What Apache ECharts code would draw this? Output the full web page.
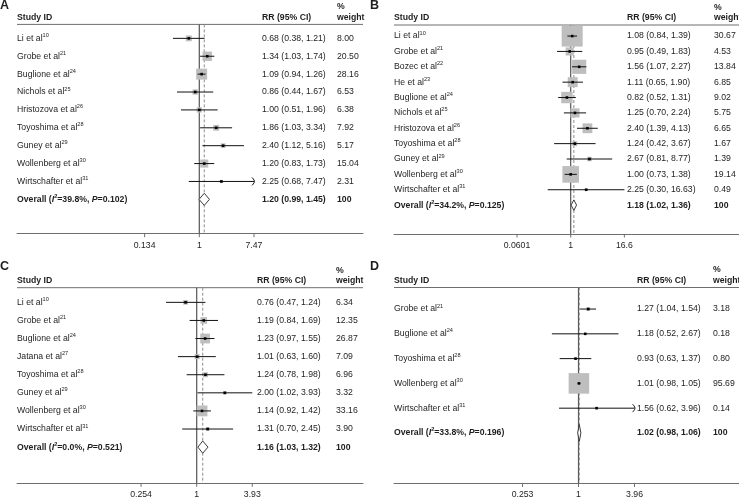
<!DOCTYPE html>
<html><head><meta charset="utf-8">
<script src="https://cdn.jsdelivr.net/npm/echarts@6/dist/echarts.min.js"></script>
<style>html,body{margin:0;padding:0;background:#fff}#c{width:739px;height:497px}</style>
</head><body><div id="c"></div>
<script>
// ---------- Panel A ----------
const studiesA = ['Li et al','Grobe et al','Buglione et al','Nichols et al','Hristozova et al','Toyoshima et al','Guney et al','Wollenberg et al','Wirtschafter et al'];
const refsA = ['10','21','24','25','26','28','29','30','31'];
const rrA = [0.68,1.34,1.09,0.86,1.00,1.86,2.40,1.20,2.25];
const lowA = [0.38,1.03,0.94,0.44,0.51,1.03,1.12,0.83,0.68];
const highA = [1.21,1.74,1.26,1.67,1.96,3.34,5.16,1.73,7.47];
const weightA = [8.00,20.50,28.16,6.53,6.38,7.92,5.17,15.04,2.31];
const arrowA = [0,0,0,0,0,0,0,0,1];
const overallA = [1.20,0.99,1.45];
const hetA = ['39.8%','0.102'];
const ticksA = [0.134,1,7.47];

// ---------- Panel B ----------
const studiesB = ['Li et al','Grobe et al','Bozec et al','He et al','Buglione et al','Nichols et al','Hristozova et al','Toyoshima et al','Guney et al','Wollenberg et al','Wirtschafter et al'];
const refsB = ['10','21','22','23','24','25','26','28','29','30','31'];
const rrB = [1.08,0.95,1.56,1.11,0.82,1.25,2.40,1.24,2.67,1.00,2.25];
const lowB = [0.84,0.49,1.07,0.65,0.52,0.70,1.39,0.42,0.81,0.73,0.30];
const highB = [1.39,1.83,2.27,1.90,1.31,2.24,4.13,3.67,8.77,1.38,16.63];
const weightB = [30.67,4.53,13.84,6.85,9.02,5.75,6.65,1.67,1.39,19.14,0.49];
const arrowB = [0,0,0,0,0,0,0,0,0,0,0];
const overallB = [1.18,1.02,1.36];
const hetB = ['34.2%','0.125'];
const ticksB = [0.0601,1,16.6];

// ---------- Panel C ----------
const studiesC = ['Li et al','Grobe et al','Buglione et al','Jatana et al','Toyoshima et al','Guney et al','Wollenberg et al','Wirtschafter et al'];
const refsC = ['10','21','24','27','28','29','30','31'];
const rrC = [0.76,1.19,1.23,1.01,1.24,2.00,1.14,1.31];
const lowC = [0.47,0.84,0.97,0.63,0.78,1.02,0.92,0.70];
const highC = [1.24,1.69,1.55,1.60,1.98,3.93,1.42,2.45];
const weightC = [6.34,12.35,26.87,7.09,6.96,3.32,33.16,3.90];
const arrowC = [0,0,0,0,0,0,0,0];
const overallC = [1.16,1.03,1.32];
const hetC = ['0.0%','0.521'];
const ticksC = [0.254,1,3.93];

// ---------- Panel D ----------
const studiesD = ['Grobe et al','Buglione et al','Toyoshima et al','Wollenberg et al','Wirtschafter et al'];
const refsD = ['21','24','28','30','31'];
const rrD = [1.27,1.18,0.93,1.01,1.56];
const lowD = [1.04,0.52,0.63,0.98,0.62];
const highD = [1.54,2.67,1.37,1.05,3.96];
const weightD = [3.18,0.18,0.80,95.69,0.14];
const arrowD = [0,0,0,0,1];
const overallD = [1.02,0.98,1.06];
const hetD = ['33.8%','0.196'];
const ticksD = [0.253,1,3.96];

// ---------- layout / style ----------
const FF = '"Liberation Sans", Arial, Helvetica, sans-serif';
const FS = 8.7;
const TXT = '#1e1e1e';

const panels = [
  {letter:'A', names:studiesA, refs:refsA, rr:rrA, lo:lowA, hi:highA, w:weightA, arrow:arrowA, overall:overallA, het:hetA, ticks:ticksA,
   L:{left:17, right:363, top:24.4, bottom:233.7, c:199.3, k:27.2, ymin:-0.78, ymax:10.92, nameX:17, rrX:262, wX:337, boxK:2.07, tickDy:12, letterX:0, letterY:6}},
  {letter:'B', names:studiesB, refs:refsB, rr:rrB, lo:lowB, hi:highB, w:weightB, arrow:arrowB, overall:overallB, het:hetB, ticks:ticksB,
   L:{left:394, right:739, top:25, bottom:234, c:570.7, k:19.1, ymin:-0.72, ymax:12.88, nameX:394, rrX:627, wX:714, boxK:3.8, tickDy:12, letterX:370, letterY:6}},
  {letter:'C', names:studiesC, refs:refsC, rr:rrC, lo:lowC, hi:highC, w:weightC, arrow:arrowC, overall:overallC, het:hetC, ticks:ticksC,
   L:{left:17, right:363, top:287.7, bottom:483.3, c:196.7, k:40.6, ymin:-0.81, ymax:10.0, nameX:17, rrX:257, wX:336, boxK:1.88, tickDy:11, letterX:0, letterY:267}},
  {letter:'D', names:studiesD, refs:refsD, rr:rrD, lo:lowD, hi:highD, w:weightD, arrow:arrowD, overall:overallD, het:hetD, ticks:ticksD,
   L:{left:394, right:739, top:287.5, bottom:483.5, c:578.5, k:40.7, ymin:-0.87, ymax:7.04, nameX:394, rrX:637, wX:713, boxK:2.1, tickDy:11, letterX:370, letterY:267}}
];

function fmt(v){ return v.toFixed(2); }
function ciText(e,l,h){ return fmt(e)+' ('+fmt(l)+', '+fmt(h)+')'; }

const richNorm = {
  n:{fontSize:FS, fontFamily:FF, fill:TXT, lineHeight:12},
  s:{fontSize:5.6, fontFamily:FF, fill:TXT, lineHeight:6, verticalAlign:'top'}
};
const richBold = {
  b:{fontSize:FS, fontFamily:FF, fill:TXT, fontWeight:'bold', lineHeight:12},
  bi:{fontSize:FS, fontFamily:FF, fill:TXT, fontWeight:'bold', fontStyle:'italic', lineHeight:12},
  bs:{fontSize:5.6, fontFamily:FF, fill:TXT, fontWeight:'bold', lineHeight:6, verticalAlign:'top'}
};

function txt(text, x, y, opts){
  return {type:'text', style:Object.assign({text:text, x:x, y:y, fill:TXT, fontSize:FS, fontFamily:FF, align:'left', verticalAlign:'middle'}, opts||{})};
}

function frameRender(P){
  return function(params, api){
    const cs = params.coordSys, L = P.L;
    const top = cs.y, bot = cs.y + cs.height, left = cs.x, right = cs.x + cs.width;
    const x1 = api.coord([1, 0])[0];
    const xo = api.coord([P.overall[0], 0])[0];
    const ch = [];
    ch.push({type:'line', shape:{x1:left, y1:top, x2:right, y2:top}, style:{stroke:'#6e6e6e', lineWidth:1}});
    ch.push({type:'line', shape:{x1:x1, y1:top, x2:x1, y2:bot}, style:{stroke:'#555', lineWidth:1.2}});
    ch.push({type:'line', shape:{x1:xo, y1:top, x2:xo, y2:bot}, style:{stroke:'#8c8c8c', lineWidth:1, lineDash:[3,2]}});
    P.ticks.forEach(function(t){
      const tx = api.coord([t, 0])[0];
      ch.push({type:'line', shape:{x1:tx, y1:bot, x2:tx, y2:bot+3.5}, style:{stroke:'#6e6e6e', lineWidth:1}});
      ch.push(txt(String(t), tx, bot + L.tickDy, {align:'center'}));
    });
    ch.push(txt('Study ID', L.nameX, top - 7, {fontWeight:'bold'}));
    ch.push(txt('RR (95% CI)', L.rrX, top - 7, {fontWeight:'bold'}));
    ch.push(txt('%', L.wX, top - 17.5, {fontWeight:'bold'}));
    ch.push(txt('weight', L.wX, top - 7, {fontWeight:'bold'}));
    ch.push(txt(P.letter, L.letterX, L.letterY, {fontWeight:'bold', fontSize:12.5}));
    return {type:'group', children:ch};
  };
}

function studyRender(P){
  return function(params, api){
    const i = params.dataIndex, L = P.L;
    const y = api.coord([1, i])[1];
    const xe = api.coord([P.rr[i], i])[0];
    const xl = api.coord([P.lo[i], i])[0];
    const xh = api.coord([P.hi[i], i])[0];
    const s = L.boxK * Math.sqrt(P.w[i]);
    const ch = [
      {type:'rect', shape:{x:xe - s/2, y:y - s/2, width:s, height:s}, style:{fill:'#bebebe'}},
      {type:'line', shape:{x1:xl, y1:y, x2:xh, y2:y}, style:{stroke:'#111', lineWidth:1}},
      {type:'rect', shape:{x:xe - 1.3, y:y - 1.3, width:2.6, height:2.6}, style:{fill:'#000'}}
    ];
    if (P.arrow[i]) {
      ch.push({type:'polyline', shape:{points:[[xh - 2, y - 4], [xh + 0.5, y], [xh - 2, y + 4]], smooth:0.4}, style:{stroke:'#111', fill:null, lineWidth:1}});
    }
    ch.push(txt('{n|' + P.names[i] + '}{s|' + P.refs[i] + '}', L.nameX, y, {rich:richNorm}));
    ch.push(txt(ciText(P.rr[i], P.lo[i], P.hi[i]), L.rrX, y));
    ch.push(txt(fmt(P.w[i]), L.wX, y));
    return {type:'group', children:ch};
  };
}

function overallRender(P){
  return function(params, api){
    const L = P.L, n = P.names.length;
    const y = api.coord([1, n])[1];
    const rowH = Math.abs(api.coord([1, n])[1] - api.coord([1, n - 1])[1]);
    const h = 0.68 * rowH;
    const xe = api.coord([P.overall[0], n])[0];
    const xl = api.coord([P.overall[1], n])[0];
    const xh = api.coord([P.overall[2], n])[0];
    const ch = [
      {type:'polygon', shape:{points:[[xl, y], [xe, y - h/2], [xh, y], [xe, y + h/2]]}, style:{fill:'#fff', stroke:'#3c3c3c', lineWidth:1}},
      txt('{b|Overall (}{bi|I}{bs|2}{b|=' + P.het[0] + ', }{bi|P}{b|=' + P.het[1] + ')}', L.nameX, y, {rich:richBold}),
      txt(ciText(P.overall[0], P.overall[1], P.overall[2]), L.rrX, y, {fontWeight:'bold'}),
      txt('100', L.wX, y, {fontWeight:'bold'})
    ];
    return {type:'group', children:ch};
  };
}

const grid = [], xAxis = [], yAxis = [], series = [];
panels.forEach(function(P, pi){
  const L = P.L;
  grid.push({left:L.left, top:L.top, width:L.right - L.left, height:L.bottom - L.top});
  xAxis.push({type:'log', gridIndex:pi, logBase:Math.E, position:'bottom',
    min:Math.exp(-(L.c - L.left)/L.k), max:Math.exp((L.right - L.c)/L.k),
    axisLine:{show:true, onZero:false, lineStyle:{color:'#6e6e6e', width:1}},
    axisTick:{show:false}, axisLabel:{show:false}, splitLine:{show:false}});
  yAxis.push({type:'value', gridIndex:pi, inverse:true, min:L.ymin, max:L.ymax, show:false});
  series.push({type:'custom', xAxisIndex:pi, yAxisIndex:pi, z:1, silent:true,
    data:[[1, 0]], encode:{x:0, y:1}, renderItem:frameRender(P)});
  series.push({type:'custom', xAxisIndex:pi, yAxisIndex:pi, z:3, silent:true,
    data:P.rr.map(function(v, i){ return [v, i, P.lo[i], P.hi[i]]; }), encode:{x:0, y:1}, renderItem:studyRender(P)});
  series.push({type:'custom', xAxisIndex:pi, yAxisIndex:pi, z:3, silent:true,
    data:[[P.overall[0], P.names.length, P.overall[1], P.overall[2]]], encode:{x:0, y:1}, renderItem:overallRender(P)});
});

const chart = echarts.init(document.getElementById('c'), null, {renderer:'canvas'});
chart.setOption({animation:false, backgroundColor:'#fff', grid:grid, xAxis:xAxis, yAxis:yAxis, series:series});
</script>
</body></html>
